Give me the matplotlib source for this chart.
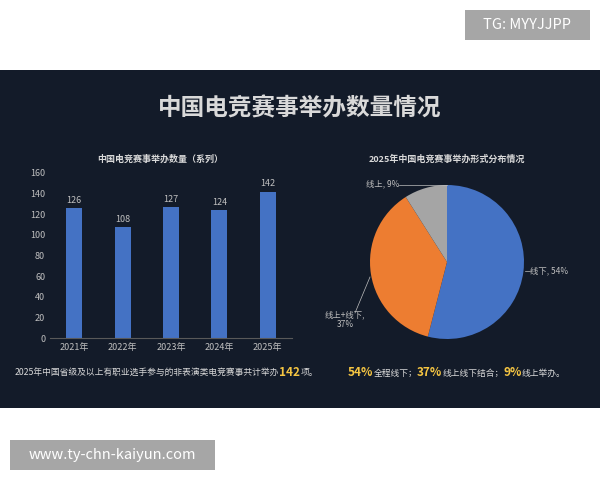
import matplotlib
matplotlib.use("Agg")
import matplotlib.pyplot as plt
from matplotlib.patches import Rectangle

plt.rcParams['font.family'] = ['Noto Sans CJK SC', 'DejaVu Sans']

years = ['2021年', '2022年', '2023年', '2024年', '2025年']
counts = [126, 108, 127, 124, 142]
yticks = [0, 20, 40, 60, 80, 100, 120, 140, 160]
pie_labels = ['线下, 54%', '线上+线下,\n37%', '线上, 9%']
pie_values = [54, 37, 9]
pie_colors = ['#4472c4', '#ed7d31', '#a5a5a5']

bg = '#131b29'
fig = plt.figure(figsize=(6, 4.8), dpi=100, facecolor='white')
fig.patches.append(Rectangle((0, 1-408/480), 1, (408-70)/480, transform=fig.transFigure,
                             facecolor=bg, edgecolor='none', zorder=-5))
fig.patches.append(Rectangle((465/600, 1-40/480), 125/600, 30/480, transform=fig.transFigure,
                             facecolor='#a6a6a6', edgecolor='none', zorder=-5))
fig.text(527/600, 1-25/480, 'TG: MYYJJPP', color='white', fontsize=10.5, ha='center', va='center')
fig.patches.append(Rectangle((10/600, 1-470/480), 205/600, 30/480, transform=fig.transFigure,
                             facecolor='#a6a6a6', edgecolor='none', zorder=-5))
fig.text(112/600, 1-455/480, 'www.ty-chn-kaiyun.com', color='white', fontsize=10.5, ha='center', va='center')

fig.text(0.5, 1-108/480, '中国电竞赛事举办数量情况', color='#d9d9d9', fontsize=17,
         fontweight='bold', ha='center', va='center')
fig.text(160/600, 1-159/480, '中国电竞赛事举办数量（系列）', color='#d9d9d9', fontsize=6.5,
         fontweight='bold', ha='center', va='center')
fig.text(447/600, 1-159/480, '2025年中国电竞赛事举办形式分布情况', color='#d9d9d9', fontsize=6.5,
         fontweight='bold', ha='center', va='center')

ax = fig.add_axes([50/600, 1-338/480, 242/600, 165/480])
ax.set_facecolor('none')
x = range(len(years))
ax.bar(x, counts, width=0.33, color='#4472c4')
for xi, v in zip(x, counts):
    ax.text(xi, v + 3, str(v), color='#bfbfbf', fontsize=6.5, ha='center', va='bottom')
ax.set_xticks(list(x))
ax.set_xticklabels(years)
ax.set_yticks(yticks)
ax.set_ylim(0, 160)
ax.set_xlim(-0.5, 4.5)
ax.tick_params(colors='#bfbfbf', labelsize=6.5, length=0)
for s in ['top', 'right', 'left']:
    ax.spines[s].set_visible(False)
ax.spines['bottom'].set_color('#595959')

pax = fig.add_axes([370/600, 1-339/480, 154/600, 154/480])
pax.pie(pie_values, colors=pie_colors, startangle=90, counterclock=False,
        wedgeprops=dict(linewidth=0))
pax.set_aspect('equal')
pax.set_xlim(-1, 1); pax.set_ylim(-1, 1)
pax.axis('off')
lc = '#bfbfbf'
fig.text(530/600, 1-271/480, pie_labels[0], color=lc, fontsize=6, ha='left', va='center')
fig.add_artist(plt.Line2D([525/600, 530/600], [1-271/480, 1-271/480], color=lc, lw=0.5))
fig.text(345/600, 1-320/480, pie_labels[1], color=lc, fontsize=6, ha='center', va='center', linespacing=1.1)
fig.add_artist(plt.Line2D([355/600, 370/600], [1-313/480, 1-277/480], color=lc, lw=0.5))
fig.text(383/600, 1-184/480, pie_labels[2], color=lc, fontsize=6, ha='center', va='center')
fig.add_artist(plt.Line2D([399/600, 447/600], [1-185/480, 1-185/480], color=lc, lw=0.5))

r = fig.canvas.get_renderer()
def run(parts, xpos, y):
    for t, hl in parts:
        tx = fig.text(xpos, y, t, color='#f5c542' if hl else '#d9d9d9',
                      fontsize=8.5 if hl else 6.3, fontweight='bold' if hl else 'normal',
                      ha='left', va='center')
        xpos += tx.get_window_extent(renderer=r).width / fig.bbox.width

run([('2025年中国省级及以上有职业选手参与的非表演类电竞赛事共计举办', False), ('142', True), ('项。', False)],
    15/600, 1-373/480)
run([('54%', True), ('全程线下；', False), ('37%', True), ('线上线下结合；', False), ('9%', True), ('线上举办。', False)],
    348/600, 1-373/480)

fig.savefig('out.png', dpi=100, facecolor='white')
